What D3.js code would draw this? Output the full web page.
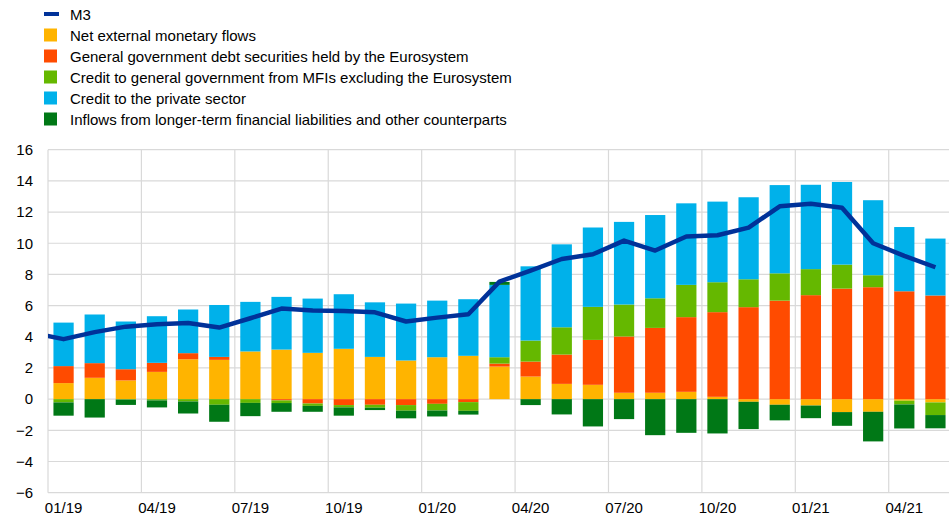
<!DOCTYPE html>
<html>
<head>
<meta charset="utf-8">
<script src="https://cdn.jsdelivr.net/npm/d3@7"></script>
<style>
body{margin:0;background:#fff}
text{font-family:Arial,"Liberation Sans",sans-serif;fill:#000}
</style>
</head>
<body>
<svg></svg>
<script>
var months=["01/19","02/19","03/19","04/19","05/19","06/19","07/19","08/19","09/19","10/19","11/19","12/19",
            "01/20","02/20","03/20","04/20","05/20","06/20","07/20","08/20","09/20","10/20","11/20","12/20",
            "01/21","02/21","03/21","04/21","05/21"]
var tickMonths=["01/19","04/19","07/19","10/19","01/20","04/20","07/20","10/20","01/21","04/21"]
var yTicks=[-6,-4,-2,0,2,4,6,8,10,12,14,16]

var netExternal=[1.03,1.37,1.2,1.75,2.56,2.52,3.06,3.18,2.97,3.23,2.71,2.48,2.69,2.78,2.09,1.45,0.98,0.92,0.41,0.41,0.47,0.15,-0.17,-0.36,-0.41,-0.83,-0.81,-0.1,-0.21]
var govDebtEuro=[1.09,0.94,0.72,0.58,0.39,0.19,0,-0.08,-0.28,-0.38,-0.36,-0.38,-0.3,-0.19,0.19,0.96,1.88,2.88,3.61,4.16,4.79,5.43,5.9,6.32,6.67,7.09,7.18,6.92,6.65]
var creditGovMFI=[-0.21,0,-0.03,-0.08,-0.15,-0.36,-0.24,-0.17,-0.15,-0.15,-0.19,-0.36,-0.43,-0.56,0.41,1.35,1.75,2.12,2.05,1.9,2.07,1.92,1.79,1.75,1.67,1.54,0.77,-0.24,-0.81]
var creditPrivate=[2.79,3.12,3.06,2.99,2.8,3.33,3.18,3.38,3.48,3.5,3.5,3.65,3.63,3.63,4.64,4.76,5.32,5.09,5.3,5.34,5.23,5.17,5.26,5.66,5.41,5.3,4.81,4.12,3.65]
var longTerm=[-0.85,-1.18,-0.34,-0.45,-0.77,-1.09,-0.85,-0.56,-0.38,-0.53,-0.15,-0.49,-0.38,-0.24,0.19,-0.38,-0.98,-1.75,-1.28,-2.31,-2.16,-2.2,-1.75,-1.0,-0.81,-0.88,-1.9,-1.54,-0.85]
// M3 starts one month earlier (12/18), the line runs in from the left edge
var m3=[4.25,3.85,4.3,4.65,4.8,4.89,4.59,5.19,5.81,5.68,5.66,5.57,4.98,5.23,5.45,7.54,8.25,8.99,9.29,10.17,9.53,10.43,10.51,11.0,12.37,12.54,12.28,10.0,9.19,8.46]

var keys=["netExternal","govDebtEuro","creditGovMFI","creditPrivate","longTerm"]
var names=["Net external monetary flows","General government debt securities held by the Eurosystem",
           "Credit to general government from MFIs excluding the Eurosystem","Credit to the private sector",
           "Inflows from longer-term financial liabilities and other counterparts"]
var colors=["#ffb400","#ff4b00","#65b800","#00b1ea","#007816"]
var m3Color="#003299"

var screen={width:949,height:522}
var plot={left:48,right:951,top:149.7,bottom:492.7}

var table=months.map(function(m,i){
    return {month:m,netExternal:netExternal[i],govDebtEuro:govDebtEuro[i],
            creditGovMFI:creditGovMFI[i],creditPrivate:creditPrivate[i],longTerm:longTerm[i]}
})

var svg=d3.select("svg").attr("width",screen.width).attr("height",screen.height)

var xScale=d3.scaleBand().domain(months).range([plot.left,plot.right])
    .paddingInner(0.35).paddingOuter(0.175)
var step=xScale.step()
// index scale for the line (index -1 = 12/18)
var xIdx=d3.scaleLinear().domain([0,months.length]).range([plot.left,plot.right])
var yScale=d3.scaleLinear().domain([-6,16]).range([plot.bottom,plot.top])

svg.append("clipPath").attr("id","clip").append("rect")
   .attr("x",plot.left).attr("y",0).attr("width",plot.right-plot.left).attr("height",screen.height)

// horizontal grid
svg.append("g").selectAll("line").data(yTicks).enter().append("line")
   .attr("x1",plot.left).attr("x2",plot.right)
   .attr("y1",function(d){return yScale(d)}).attr("y2",function(d){return yScale(d)})
   .attr("stroke","#d9d9d9").attr("stroke-width",1.2)

// vertical grid at start of each quarter
var quarterX=function(d){return xScale(d)-step*0.175}
svg.append("g").selectAll("line").data(tickMonths).enter().append("line")
   .attr("x1",quarterX).attr("x2",quarterX)
   .attr("y1",plot.top).attr("y2",plot.bottom)
   .attr("stroke","#d9d9d9").attr("stroke-width",1.2)

// y axis
var yAxis=d3.axisLeft(yScale).tickValues(yTicks).tickSize(0).tickPadding(15)
var ya=svg.append("g").attr("transform","translate("+plot.left+",0)").call(yAxis)
ya.select(".domain").remove()
ya.selectAll("text").style("font-size","15px").attr("font-family",null)

// x axis
var xAxis=d3.axisBottom(xScale).tickValues(tickMonths).tickSize(0).tickPadding(10)
var xa=svg.append("g").attr("transform","translate(0,"+plot.bottom+")").call(xAxis)
xa.select(".domain").remove()
xa.selectAll("text").style("font-size","15px").attr("font-family",null)

// stacked bars
var series=d3.stack().keys(keys).offset(d3.stackOffsetDiverging)(table)
svg.append("g").selectAll("g").data(series).enter().append("g")
   .attr("fill",function(d,i){return colors[i]})
   .selectAll("rect").data(function(d){return d}).enter().append("rect")
   .attr("x",function(d){return xScale(d.data.month)})
   .attr("width",xScale.bandwidth())
   .attr("y",function(d){return yScale(Math.max(d[0],d[1]))})
   .attr("height",function(d){return Math.abs(yScale(d[0])-yScale(d[1]))})

// M3 line
var line=d3.line()
   .x(function(d,i){return xIdx(i-0.5)})
   .y(function(d){return yScale(d)})
svg.append("path").datum(m3)
   .attr("clip-path","url(#clip)")
   .attr("d",line)
   .attr("fill","none")
   .attr("stroke",m3Color)
   .attr("stroke-width",4.5)
   .attr("stroke-linejoin","round")

// legend
var legend=svg.append("g")
legend.append("rect").attr("x",44).attr("y",12).attr("width",15).attr("height",4).attr("fill",m3Color)
legend.append("text").attr("x",70).attr("y",19.5).style("font-size","15px").text("M3")
var items=legend.selectAll("g.item").data(names).enter().append("g").attr("class","item")
   .attr("transform",function(d,i){return "translate(0,"+(35+21*i)+")"})
items.append("rect").attr("x",44).attr("y",-6.5).attr("width",13).attr("height",13)
   .attr("fill",function(d,i){return colors[i]})
items.append("text").attr("x",70).attr("y",5.5).style("font-size","15px").text(function(d){return d})
</script>
</body>
</html>
